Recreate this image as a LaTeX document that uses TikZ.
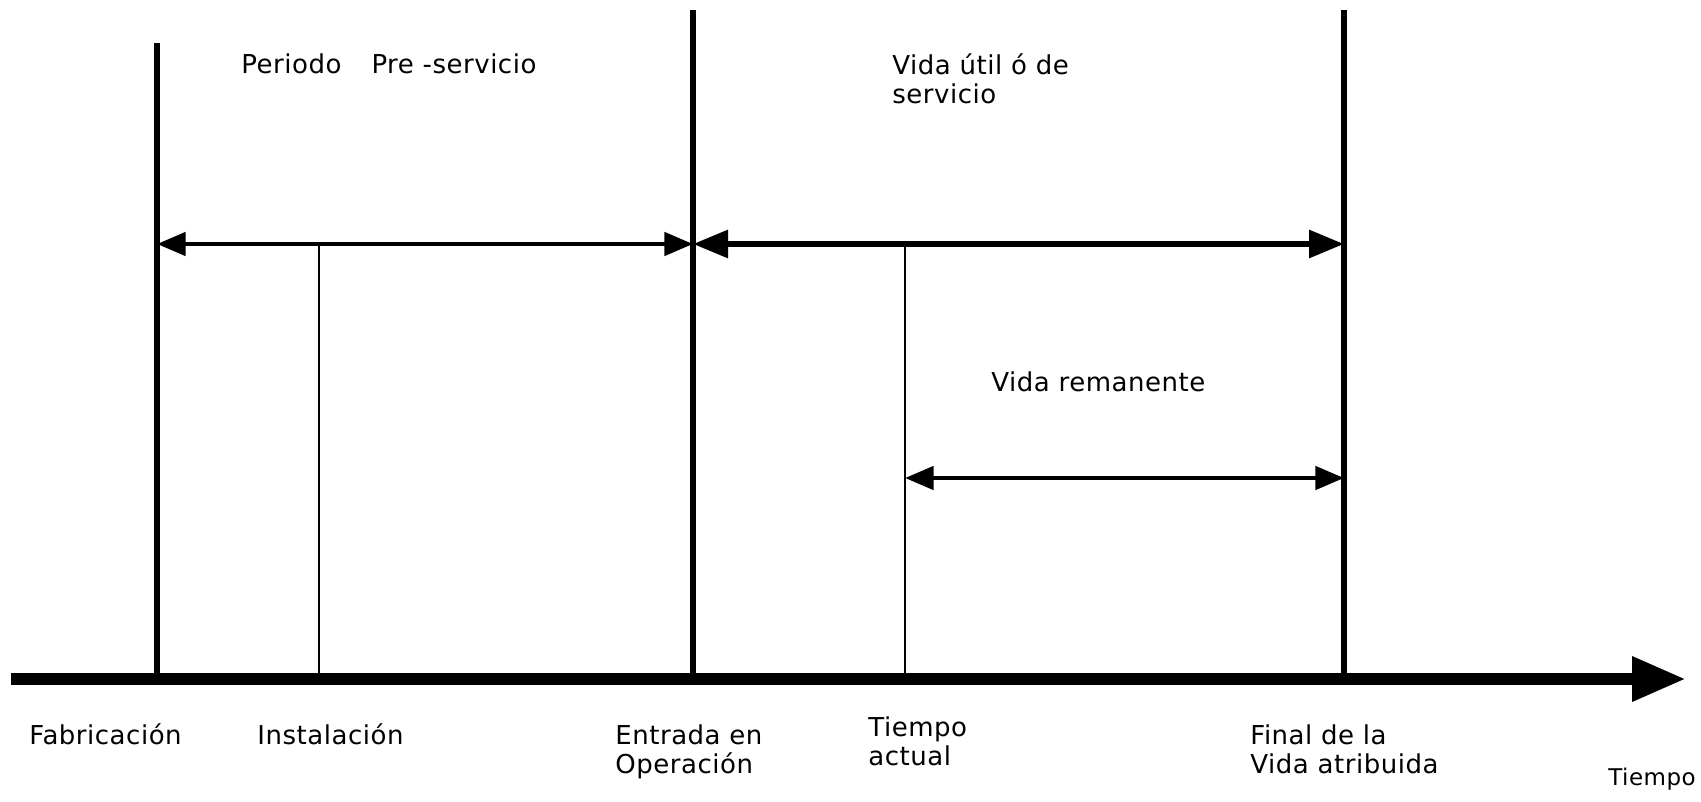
\documentclass[tikz,border=0pt]{standalone}
\usepackage{fontspec}
\setmainfont{DejaVu Sans}[LetterSpace=2]
\usetikzlibrary{arrows.meta}

\begin{document}
\begin{tikzpicture}[x=0.5pt,y=-0.5pt,
  lbl/.style={anchor=base west,inner sep=0pt,align=left,font=\fontsize{13}{14.5}\selectfont},
  hito/.style={line width=2.7pt},
  aux/.style={line width=1.1pt},
  span/.style={{Triangle[length=14.3pt,width=11.5pt]}-{Triangle[length=14.3pt,width=11.5pt]},line width=2.3pt},
  spanbig/.style={{Triangle[length=17.5pt,width=13.5pt]}-{Triangle[length=17.5pt,width=13.5pt]},line width=3pt},
  eje/.style={-{Triangle[length=27pt,width=21pt]},line width=6.2pt}]
\useasboundingbox (0,0) rectangle (1701,802);
\coordinate (ini) at (11,679);
\coordinate (fin) at (1686,679);
\coordinate (fab) at (157,679);
\coordinate (ins) at (319,679);
\coordinate (ent) at (693,679);
\coordinate (act) at (905,679);
\coordinate (atr) at (1344,679);
\coordinate (top) at (0,10);
\coordinate (pre) at (0,244);
\coordinate (rem) at (0,478);
\draw[hito] (fab) -- (157,43);
\draw[hito] (ent) -- (ent |- top);
\draw[hito] (atr) -- (atr |- top);
\draw[aux] (ins) -- (ins |- pre);
\draw[aux] (act) -- (act |- pre);
\draw[eje] (ini) -- (fin);
\draw[span] (fab |- pre) -- (ent |- pre);
\draw[spanbig] (ent |- pre) -- (atr |- pre);
\draw[span] (act |- rem) -- (atr |- rem);
\node[lbl] (tpre) at (241,74) {Periodo\hspace*{15pt}Pre -servicio};
\node[lbl] (tvida) at (892,104) {Vida útil ó de\\servicio};
\node[lbl] (trem) at (991,391) {Vida remanente};
\node[lbl] (tfab) at (29,744) {Fabricación};
\node[lbl] (tins) at (257,744) {Instalación};
\node[lbl] (tent) at (615,773) {Entrada en\\Operación};
\node[lbl] (tact) at (868,765) {Tiempo\\actual};
\node[lbl] (tatr) at (1250,773) {Final de la\\Vida atribuida};
\node[lbl,font=\fontsize{11.5}{13}\selectfont] (teje) at (1608,785) {Tiempo};
\end{tikzpicture}
\end{document}
